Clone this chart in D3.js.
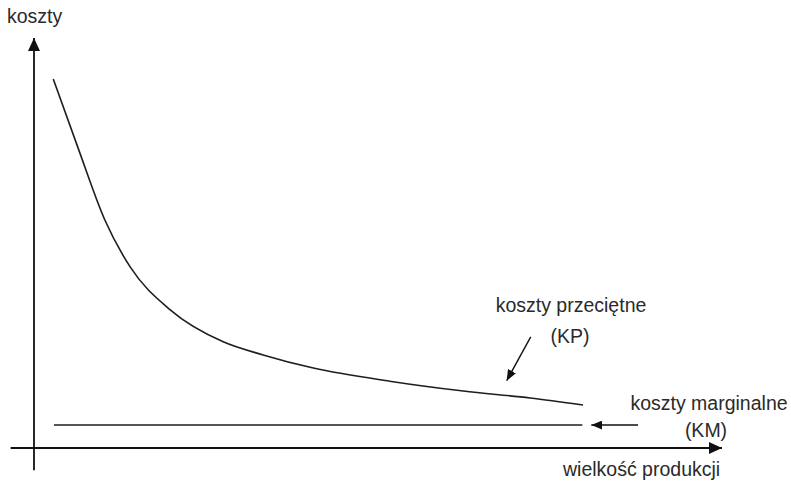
<!DOCTYPE html>
<meta charset="utf-8" />
<style>
  body { margin: 0; background: #fff; }
  .line { fill: none; stroke: #1e1e1e; stroke-width: 1.6px; }
  .axis { fill: none; stroke: #111; stroke-width: 1.8px; }
  .label { font-family: "Liberation Sans", Arial, sans-serif; font-size: 19.5px; fill: #2a2a2a; }
</style>
<body>
  <script src="https://d3js.org/d3.v7.min.js"></script>
  <script>
    // average cost curve (KP), in chart units
    var kpX = [2.8, 6.4, 10.3, 14.0, 19.8, 27.5, 33.3, 40.6, 51.7, 62.4, 72.1, 79.8];
    var kpY = [90.0, 73.2, 55.6, 44.1, 33.7, 25.9, 22.7, 19.5, 16.3, 13.9, 12.2, 10.5];

    // marginal cost (KM) - flat line
    var kmX = [2.9, 79.7];
    var kmY = [5.6, 5.6];

    // texts
    var yTitle = 'koszty';
    var xTitle = 'wielkość produkcji';
    var kpLabel = ['koszty przeciętne', '(KP)'];
    var kmLabel = ['koszty marginalne', '(KM)'];

    var width = 791, height = 486;

    var x = d3.scaleLinear().domain([0, 100]).range([34, 722]);
    var y = d3.scaleLinear().domain([0, 100]).range([448, 38]);

    var svg = d3.select('body')
      .append('svg')
      .attr('width', width)
      .attr('height', height);

    // arrow heads
    var defs = svg.append('defs');
    function marker(id, len, wid) {
      defs.append('marker')
        .attr('id', id)
        .attr('markerUnits', 'userSpaceOnUse')
        .attr('viewBox', '0 0 ' + len + ' ' + wid)
        .attr('refX', len)
        .attr('refY', wid / 2)
        .attr('markerWidth', len)
        .attr('markerHeight', wid)
        .attr('orient', 'auto')
        .append('path')
        .attr('d', 'M0,0L' + len + ',' + wid / 2 + 'L0,' + wid + 'Z')
        .attr('fill', '#111');
    }
    marker('big', 13, 12);
    marker('small', 11, 9);

    // axes (no ticks, just arrows)
    svg.append('line')
      .attr('class', 'axis')
      .attr('x1', x(0)).attr('y1', y(-5.4))
      .attr('x2', x(0)).attr('y2', y(100))
      .attr('marker-end', 'url(#big)');

    svg.append('line')
      .attr('class', 'axis')
      .attr('x1', x(-3.4)).attr('y1', y(0))
      .attr('x2', x(100)).attr('y2', y(0))
      .attr('marker-end', 'url(#big)');

    var line = d3.line()
      .x(function(d) { return x(d[0]); })
      .y(function(d) { return y(d[1]); })
      .curve(d3.curveMonotoneX);

    svg.append('path')
      .datum(d3.zip(kpX, kpY))
      .attr('class', 'line')
      .attr('d', line);

    svg.append('path')
      .datum(d3.zip(kmX, kmY))
      .attr('class', 'line')
      .attr('d', line);

    // pointer arrows
    svg.append('line')
      .attr('class', 'axis').style('stroke-width', '1.4px')
      .attr('x1', x(72.2)).attr('y1', y(27.1))
      .attr('x2', x(68.7)).attr('y2', y(16.4))
      .attr('marker-end', 'url(#small)');

    svg.append('line')
      .attr('class', 'axis').style('stroke-width', '1.4px')
      .attr('x1', x(87.8)).attr('y1', y(5.6))
      .attr('x2', x(81.0)).attr('y2', y(5.6))
      .attr('marker-end', 'url(#small)');

    // texts
    svg.append('text').attr('class', 'label')
      .attr('x', 7).attr('y', 23).text(yTitle);

    svg.append('text').attr('class', 'label')
      .attr('x', 563).attr('y', 476).text(xTitle);

    svg.append('text').attr('class', 'label')
      .attr('x', 571).attr('y', 312).attr('text-anchor', 'middle').text(kpLabel[0]);
    svg.append('text').attr('class', 'label')
      .attr('x', 570).attr('y', 343).attr('text-anchor', 'middle').text(kpLabel[1]);

    svg.append('text').attr('class', 'label')
      .attr('x', 709).attr('y', 410).attr('text-anchor', 'middle').text(kmLabel[0]);
    svg.append('text').attr('class', 'label')
      .attr('x', 706).attr('y', 437).attr('text-anchor', 'middle').text(kmLabel[1]);
  </script>
</body>
